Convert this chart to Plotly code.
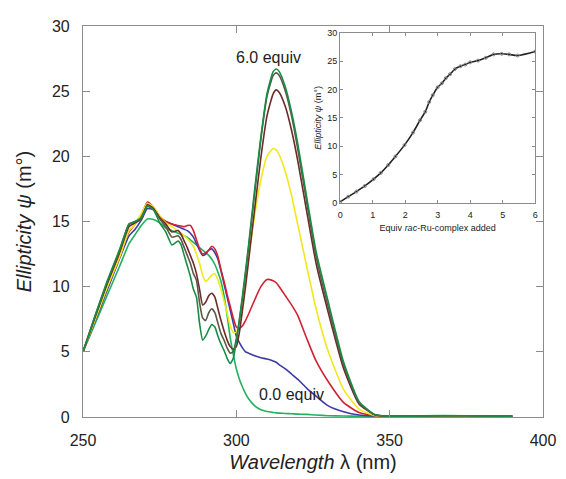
import plotly.graph_objects as go

# wavelength grid (nm)
wl = [250, 254, 258, 262, 265, 267, 269, 271, 273, 275, 277, 279, 281, 282, 283, 284,
      285, 286, 287, 288, 289, 290, 291, 292, 293, 294, 295, 296, 297, 298, 299, 300,
      301, 302, 303, 304, 306, 308, 310, 312, 313, 314, 316, 318, 320, 323, 326, 330,
      335, 340, 345, 350, 360, 375, 390]

# ellipticity (mdeg) for each titration step
eq00 = [5.0, 7.2, 9.4, 11.6, 13.3, 14.0, 14.7, 15.2, 15.15, 14.9, 14.5, 14.3, 14.1, 14.0, 13.9, 13.8,
        13.6, 13.4, 13.2, 13.0, 12.8, 12.6, 12.4, 12.1, 11.7, 11.1, 10.4, 9.3, 7.8, 6.1, 4.8, 3.7,
        2.9, 2.3, 1.8, 1.4, 0.85, 0.55, 0.42, 0.35, 0.32, 0.3, 0.27, 0.25, 0.22, 0.2, 0.15, 0.1,
        0.08, 0.05, 0.05, 0.08, 0.1, 0.1, 0.05]
eq_blue = [5.0, 7.4, 9.8, 12.2, 13.9, 14.4, 15.1, 16.0, 15.9, 15.3, 15.0, 14.8, 14.6, 14.5, 14.4, 14.3,
           14.1, 13.8, 13.3, 12.8, 12.4, 12.5, 12.8, 12.9, 12.6, 12.1, 11.2, 10.2, 9.2, 8.2, 7.2, 6.2,
           5.7, 5.3, 5.0, 4.9, 4.7, 4.55, 4.45, 4.3, 4.2, 4.0, 3.7, 3.3, 2.9, 2.2, 1.6, 0.85,
           0.4, 0.15, 0.08, 0.05, 0.08, 0.1, 0.05]
eq_red = [5.0, 7.6, 10.1, 12.5, 14.2, 14.8, 15.5, 16.5, 16.1, 15.4, 15.0, 14.8, 14.7, 14.65, 14.6, 14.7,
          14.7, 14.3, 13.6, 12.9, 12.5, 12.6, 12.8, 13.1, 12.9, 12.3, 11.3, 10.4, 9.4, 8.5, 7.6, 6.9,
          6.8, 7.0, 7.4, 7.9, 9.0, 10.0, 10.55, 10.45, 10.3, 10.0, 9.3, 8.6, 7.8, 6.0, 4.3, 2.7,
          1.1, 0.35, 0.12, 0.05, 0.05, 0.05, 0.05]
eq_yellow = [5.0, 7.5, 10.0, 12.3, 14.3, 14.8, 15.6, 16.4, 16.1, 15.4, 14.9, 14.6, 14.3, 14.1, 13.9, 13.7,
             13.4, 13.1, 12.5, 11.8, 10.9, 10.4, 10.6, 10.9, 11.0, 10.5, 9.8, 8.9, 8.0, 7.0, 6.5, 6.5,
             7.3, 8.8, 10.5, 12.3, 15.5, 18.2, 20.0, 20.6, 20.5, 20.1, 18.8, 17.0, 14.8, 11.5, 8.3, 5.0,
             2.1, 0.6, 0.12, 0.05, 0.05, 0.05, 0.05]
eq_maroon = [5.0, 7.7, 10.3, 12.7, 14.6, 14.9, 15.2, 16.3, 16.0, 15.3, 14.8, 14.2, 14.3, 14.0, 13.5, 13.0,
             12.4, 11.8, 11.0, 9.8, 8.6, 8.8, 9.3, 9.5, 9.2, 8.3, 7.4, 6.6, 5.9, 5.4, 5.2, 5.4,
             6.5, 8.2, 10.0, 12.0, 16.0, 19.9, 23.1, 24.8, 25.1, 24.9, 23.8, 22.0, 19.7, 15.7, 11.8, 8.0,
             3.7, 1.0, 0.18, 0.05, 0.08, 0.1, 0.05]
eq_olive = [5.0, 7.8, 10.4, 12.8, 14.8, 15.0, 15.2, 16.2, 15.9, 15.2, 14.6, 13.8, 13.9, 13.6, 13.0, 12.4,
            11.8, 11.0, 10.5, 8.8, 7.6, 7.4, 8.0, 8.3, 8.0, 7.2, 6.4, 5.9, 5.3, 4.9, 5.0, 6.0,
            7.4, 9.1, 11.0, 13.0, 17.2, 21.3, 24.6, 26.2, 26.4, 26.2, 25.0, 23.1, 20.6, 16.4, 12.3, 8.4,
            4.0, 1.1, 0.2, 0.05, 0.08, 0.1, 0.05]
eq60 = [5.0, 7.8, 10.5, 12.9, 14.8, 15.0, 15.3, 16.2, 15.9, 14.9, 14.2, 13.2, 13.5, 13.2, 12.4, 11.6,
        10.8, 9.8, 9.2, 7.2, 5.9, 6.2, 6.7, 7.1, 6.9, 6.2, 5.6, 5.1, 4.5, 4.1, 4.5, 5.8,
        7.5, 9.3, 11.2, 13.2, 17.5, 21.5, 24.8, 26.5, 26.7, 26.5, 25.3, 23.4, 21.0, 16.8, 12.7, 8.8,
        4.2, 1.2, 0.2, 0.05, 0.08, 0.1, 0.05]

# inset: titration curve
equiv = [0, 0.25, 0.5, 0.76, 1.03, 1.25, 1.48, 1.7, 1.98, 2.24, 2.46, 2.62, 2.74, 2.85, 3.0,
         3.13, 3.25, 3.38, 3.53, 3.7, 3.85, 4.0, 4.24, 4.48, 4.72, 4.97, 5.2, 5.46, 6.0]
psi = [0.2, 1.1, 2.0, 3.0, 4.2, 5.3, 6.7, 8.2, 10.2, 12.4, 14.6, 16.1, 17.8, 19.0, 20.4,
       21.1, 22.0, 22.7, 23.6, 24.1, 24.4, 24.8, 25.1, 25.6, 26.2, 26.3, 26.2, 26.0, 26.7]

series = [
    (eq00, "#22b25e"),
    (eq_blue, "#3b3ba6"),
    (eq_red, "#cf2233"),
    (eq_yellow, "#f2e81c"),
    (eq_maroon, "#6b2b27"),
    (eq_olive, "#5e5749"),
    (eq60, "#188c45"),
]

FONT = "Liberation Sans, Arial, sans-serif"

fig = go.Figure()
for ys, col in series:
    fig.add_trace(go.Scatter(x=wl, y=ys, mode="lines", line=dict(color=col, width=1.6, shape="spline", smoothing=0.5),
                             showlegend=False, xaxis="x", yaxis="y"))

fig.add_trace(go.Scatter(x=equiv, y=psi, mode="lines+markers",
                         line=dict(color="#222222", width=1.6, shape="spline", smoothing=0.8),
                         marker=dict(symbol="circle-open", size=3, color="#888888", line=dict(width=1)),
                         showlegend=False, xaxis="x2", yaxis="y2"))

axis_common = dict(showline=True, linecolor="#8c8c8c", linewidth=1.2, mirror="ticks", ticks="inside",
                   tickcolor="#8c8c8c", showgrid=False, zeroline=False)

# page body has an 8px margin, so the figure is sized a bit smaller than the window
fig.update_layout(
    width=558, height=471,
    margin=dict(l=75, r=18, t=10, b=61),
    paper_bgcolor="white", plot_bgcolor="white",
    font=dict(family=FONT, color="#222222"),
    xaxis=dict(range=[250, 400], tickvals=[250, 300, 350, 400], ticklen=7, tickfont=dict(size=16),
               ticklabelstandoff=9,
               title=dict(text="<i>Wavelength</i> λ (nm)", font=dict(size=20), standoff=6),
               domain=[0, 1], **axis_common),
    yaxis=dict(range=[0, 30], dtick=5, ticklen=7, tickfont=dict(size=16), ticklabelstandoff=9,
               title=dict(text="<i>Ellipticity ψ</i> (m°)", font=dict(size=20), standoff=14),
               domain=[0, 1], **axis_common),
    xaxis2=dict(range=[0, 6], dtick=1, ticklen=3, tickfont=dict(size=9), anchor="y2", ticklabelstandoff=3,
                title=dict(text="Equiv <i>rac</i>-Ru-complex added", font=dict(size=9), standoff=5),
                domain=[0.559, 0.983], **axis_common),
    yaxis2=dict(range=[0, 30], dtick=5, ticklen=3, tickfont=dict(size=9), anchor="x2",
                title=dict(text="<i>Ellipticity ψ</i> (m°)", font=dict(size=9), standoff=4),
                domain=[0.5475, 0.9825], **axis_common),
    annotations=[
        dict(x=310.5, y=27.6, xref="x", yref="y", text="6.0 equiv", showarrow=False,
             font=dict(size=16, color="#222222")),
        dict(x=317.9, y=1.72, xref="x", yref="y", text="0.0 equiv", showarrow=False,
             font=dict(size=16, color="#222222")),
    ],
)

fig.write_html("out.html")
